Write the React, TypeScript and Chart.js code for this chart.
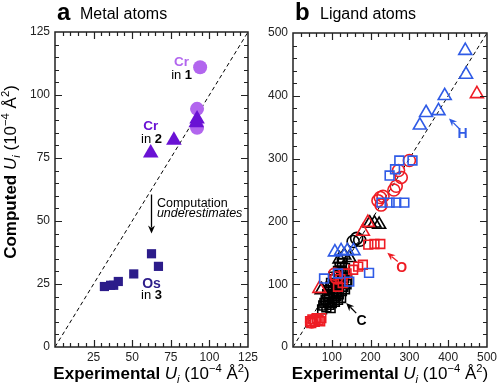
import React, { useEffect, useRef } from 'react';
import { Chart, registerables } from 'chart.js';

Chart.register(...registerables);

const FONT = '"Liberation Sans", Arial, Helvetica, sans-serif';

// ---------- Panel a: metal atoms ----------
const metalXTicks = [25, 50, 75, 100, 125];
const metalYTicks = [0, 25, 50, 75, 100, 125];
const crIn1: [number, number][] = [[94, 111], [92, 94.5], [92, 87]];
const crIn2: [number, number][] = [[62, 77], [77, 82], [92, 90.5], [91.5, 89]];
const osIn3: [number, number][] = [[32, 24], [36, 24.5], [38, 24.5], [41, 26], [51, 29], [62.5, 37], [67, 32]];

// ---------- Panel b: ligand atoms ----------
const ligandXTicks = [100, 200, 300, 400, 500];
const ligandYTicks = [0, 100, 200, 300, 400, 500];
const blueTriangles: [number, number][] = [[444, 472], [446, 434], [391, 400], [343, 373], [375, 376], [327, 353], [108, 151], [124, 153], [140, 153], [156, 153]];
const blueSquares: [number, number][] = [[249, 273], [263, 283], [274, 297], [308, 297], [228, 230], [249, 230], [266, 230], [287, 230], [80, 109], [116, 117], [145, 104], [196, 118]];
const redTriangles: [number, number][] = [[474, 403], [193, 198], [180, 184], [68, 93]];
const redCircles: [number, number][] = [[300, 297], [279, 270], [272, 281], [266, 256], [260, 250], [232, 240], [225, 238], [219, 233], [227, 226], [107, 116], [112, 110], [48, 40], [56, 43]];
const redSquares: [number, number][] = [[194, 163], [210, 164], [225, 164], [155, 123], [168, 128], [180, 131], [138, 117], [122, 108], [128, 102], [116, 96], [44, 41], [50, 44], [61, 46], [73, 46], [56, 40], [66, 43], [47, 38], [70, 41]];
const blackTriangles: [number, number][] = [[198, 197], [210, 197], [222, 195], [74, 91], [106, 96], [120, 140], [132, 146], [145, 142]];
const blackCircles: [number, number][] = [[155, 168], [164, 173], [172, 170]];
const blackSquares: [number, number][] = [[78, 66], [86, 63], [94, 67], [100, 70], [108, 72], [116, 75], [124, 78], [84, 75], [93, 80], [104, 84], [114, 87], [126, 89], [134, 92], [92, 91], [102, 95], [112, 99], [122, 102], [138, 100], [108, 108], [118, 112], [128, 118], [134, 126], [120, 128], [126, 134], [98, 102], [88, 84], [75, 60], [81, 70], [90, 72], [97, 62], [106, 78], [112, 81], [118, 84], [130, 96], [140, 106], [132, 110], [124, 122], [116, 121], [104, 112], [96, 96], [110, 92], [128, 140]];

const C_CR1 = '#B266EE';
const C_CR2 = '#6A12D4';
const C_OS = '#2C1C8A';
const C_RED = '#EE1C24';
const C_BLUE = '#2F5BE6';
const C_BLACK = '#000000';
const C_AXIS = '#222222';

type Part = { t: string; b?: boolean; i?: boolean; sub?: boolean; sup?: boolean; c?: string };

function fontOf(p: Part, size: number) {
  const s = p.sub || p.sup ? size * 0.66 : size;
  return `${p.i ? 'italic ' : ''}${p.b ? 'bold ' : ''}${s}px ${FONT}`;
}

function drawRich(ctx: CanvasRenderingContext2D, parts: Part[], x: number, y: number, size: number, align: 'left' | 'center' | 'right', color: string, rotate = false) {
  ctx.save();
  ctx.translate(x, y);
  if (rotate) ctx.rotate(-Math.PI / 2);
  ctx.textBaseline = 'alphabetic';
  ctx.textAlign = 'left';
  let total = 0;
  const widths = parts.map((p) => {
    ctx.font = fontOf(p, size);
    const w = ctx.measureText(p.t).width;
    total += w;
    return w;
  });
  let cx = align === 'left' ? 0 : align === 'center' ? -total / 2 : -total;
  parts.forEach((p, k) => {
    ctx.font = fontOf(p, size);
    ctx.fillStyle = p.c || color;
    const dy = p.sup ? -size * 0.4 : p.sub ? size * 0.22 : 0;
    ctx.fillText(p.t, cx, dy);
    cx += widths[k];
  });
  ctx.restore();
}

function arrow(ctx: CanvasRenderingContext2D, x1: number, y1: number, x2: number, y2: number, color: string) {
  const ang = Math.atan2(y2 - y1, x2 - x1);
  const hl = 8;
  const hw = 3.5;
  ctx.save();
  ctx.strokeStyle = color;
  ctx.fillStyle = color;
  ctx.lineWidth = 1.3;
  ctx.beginPath();
  ctx.moveTo(x1, y1);
  ctx.lineTo(x2 - Math.cos(ang) * (hl - 2), y2 - Math.sin(ang) * (hl - 2));
  ctx.stroke();
  ctx.beginPath();
  ctx.moveTo(x2, y2);
  ctx.lineTo(x2 - Math.cos(ang) * hl - Math.sin(ang) * hw, y2 - Math.sin(ang) * hl + Math.cos(ang) * hw);
  ctx.lineTo(x2 - Math.cos(ang) * (hl - 2.5), y2 - Math.sin(ang) * (hl - 2.5));
  ctx.lineTo(x2 - Math.cos(ang) * hl + Math.sin(ang) * hw, y2 - Math.sin(ang) * hl - Math.cos(ang) * hw);
  ctx.closePath();
  ctx.fill();
  ctx.restore();
}

function drawFrame(chart: any, max: number, major: number, minor: number) {
  const ctx: CanvasRenderingContext2D = chart.ctx;
  const a = chart.chartArea;
  const xs = chart.scales.x;
  const ys = chart.scales.y;
  ctx.save();
  ctx.strokeStyle = C_AXIS;
  ctx.lineWidth = 1.5;
  ctx.strokeRect(a.left, a.top, a.right - a.left, a.bottom - a.top);
  ctx.lineWidth = 1.2;
  ctx.beginPath();
  for (let v = minor; v < max; v += minor) {
    const isMajor = Math.abs(v / major - Math.round(v / major)) < 1e-6;
    const L = isMajor ? 7 : 4;
    const px = Math.round(xs.getPixelForValue(v)) + 0.5;
    const py = Math.round(ys.getPixelForValue(v)) + 0.5;
    ctx.moveTo(px, a.bottom); ctx.lineTo(px, a.bottom - L);
    ctx.moveTo(px, a.top); ctx.lineTo(px, a.top + L);
    ctx.moveTo(a.left, py); ctx.lineTo(a.left + L, py);
    ctx.moveTo(a.right, py); ctx.lineTo(a.right - L, py);
  }
  ctx.stroke();
  ctx.restore();
}

const xTitle: Part[] = [
  { t: 'Experimental ', b: true },
  { t: 'U', i: true },
  { t: 'i', i: true, sub: true },
  { t: ' (10' },
  { t: '\u22124', sup: true },
  { t: ' \u00C5' },
  { t: '2', sup: true },
  { t: ')' },
];
const yTitle: Part[] = [
  { t: 'Computed ', b: true },
  { t: 'U', i: true },
  { t: 'i', i: true, sub: true },
  { t: ' (10' },
  { t: '\u22124', sup: true },
  { t: ' \u00C5' },
  { t: '2', sup: true },
  { t: ')' },
];

function scaleOpts(min: number, max: number, ticks: number[], isX: boolean, size: number) {
  return {
    type: 'linear',
    min,
    max,
    afterBuildTicks: (s: any) => {
      s.ticks = ticks.map((v) => ({ value: v }));
    },
    afterFit: (s: any) => {
      if (isX) s.height = size;
      else s.width = size;
    },
    ticks: { font: { family: FONT, size: 12 }, color: C_AXIS, padding: isX ? 3 : 5, maxRotation: 0, autoSkip: false },
    grid: { display: false, drawTicks: false },
    border: { display: false },
  };
}

function pts(arr: [number, number][]) {
  return arr.map(([x, y]) => ({ x, y }));
}

export default function App() {
  const refA = useRef<HTMLCanvasElement>(null);
  const refB = useRef<HTMLCanvasElement>(null);

  useEffect(() => {
    document.body.style.margin = '0';

    const chartA = new Chart(refA.current as HTMLCanvasElement, {
      type: 'scatter',
      data: {
        datasets: [
          { data: pts(crIn2), pointStyle: 'triangle', pointRadius: 9, backgroundColor: C_CR2, borderColor: C_CR2, borderWidth: 0 },
          { data: pts(crIn1), pointStyle: 'circle', pointRadius: 7, backgroundColor: C_CR1, borderColor: C_CR1, borderWidth: 0 },
          { data: pts(osIn3), pointStyle: 'rect', pointRadius: 6.5, backgroundColor: C_OS, borderColor: C_OS, borderWidth: 0 },
          { type: 'line', data: [{ x: 0, y: 0 }, { x: 125, y: 125 }], borderColor: '#000', borderWidth: 1, borderDash: [4, 3], pointRadius: 0, fill: false },
        ] as any,
      },
      options: {
        animation: false,
        responsive: true,
        maintainAspectRatio: false,
        layout: { padding: { left: 0, top: 32, right: 22, bottom: 0 } },
        plugins: { legend: { display: false }, tooltip: { enabled: false } },
        scales: {
          x: scaleOpts(0, 125, metalXTicks, true, 38),
          y: scaleOpts(0, 125, metalYTicks, false, 55),
        } as any,
      },
      plugins: [
        {
          id: 'decorA',
          afterDraw(chart: any) {
            const ctx: CanvasRenderingContext2D = chart.ctx;
            const a = chart.chartArea;
            const X = (v: number) => chart.scales.x.getPixelForValue(v);
            const Y = (v: number) => chart.scales.y.getPixelForValue(v);
            drawFrame(chart, 125, 25, 5);
            // panel title
            drawRich(ctx, [{ t: 'a', b: true }], a.left + 2, 20, 24, 'left', '#000');
            drawRich(ctx, [{ t: 'Metal atoms' }], 80, 19, 16, 'left', '#000');
            // axis titles
            drawRich(ctx, xTitle, (a.left + a.right) / 2, 379, 17, 'center', '#000');
            drawRich(ctx, yTitle, 16, 172, 17, 'center', '#000', true);
            // annotations
            drawRich(ctx, [{ t: 'Cr', b: true }], X(82), Y(111.5), 13.5, 'center', C_CR1);
            drawRich(ctx, [{ t: 'in ' }, { t: '1', b: true }], X(82), Y(106.5), 13, 'center', '#000');
            drawRich(ctx, [{ t: 'Cr', b: true }], X(62), Y(86), 13.5, 'center', C_CR2);
            drawRich(ctx, [{ t: 'in ' }, { t: '2', b: true }], X(62.5), Y(81), 13, 'center', '#000');
            drawRich(ctx, [{ t: 'Os', b: true }], X(62.5), Y(23.5), 14, 'center', C_OS);
            drawRich(ctx, [{ t: 'in ' }, { t: '3', b: true }], X(62.5), Y(19.2), 13, 'center', '#000');
            drawRich(ctx, [{ t: 'Computation' }], X(66), Y(55.5), 12.5, 'left', '#000');
            drawRich(ctx, [{ t: 'underestimates', i: true }], X(66), Y(51.5), 12.5, 'left', '#000');
            arrow(ctx, X(62.5), Y(60.5), X(62.5), Y(45), '#000');
          },
        },
      ],
    } as any);

    const open = (arr: [number, number][], style: string, color: string, r: number) => ({
      data: pts(arr),
      pointStyle: style,
      pointRadius: r,
      backgroundColor: 'rgba(0,0,0,0)',
      borderColor: color,
      pointBorderWidth: 1.6,
      borderWidth: 1.6,
    });

    const chartB = new Chart(refB.current as HTMLCanvasElement, {
      type: 'scatter',
      data: {
        datasets: [
          open(blueTriangles, 'triangle', C_BLUE, 7.5),
          open(blueSquares, 'rect', C_BLUE, 6.2),
          open(redTriangles, 'triangle', C_RED, 7.5),
          open(redCircles, 'circle', C_RED, 6),
          open(redSquares, 'rect', C_RED, 6.2),
          open(blackTriangles, 'triangle', C_BLACK, 7.5),
          open(blackCircles, 'circle', C_BLACK, 6),
          open(blackSquares, 'rect', C_BLACK, 6.2),
          { type: 'line', data: [{ x: 0, y: 0 }, { x: 500, y: 500 }], borderColor: '#000', borderWidth: 1, borderDash: [4, 3], pointRadius: 0, fill: false },
        ] as any,
      },
      options: {
        animation: false,
        responsive: true,
        maintainAspectRatio: false,
        layout: { padding: { left: 0, top: 33, right: 12, bottom: 0 } },
        plugins: { legend: { display: false }, tooltip: { enabled: false } },
        scales: {
          x: scaleOpts(0, 500, ligandXTicks, true, 38),
          y: scaleOpts(0, 500, ligandYTicks, false, 43),
        } as any,
      },
      plugins: [
        {
          id: 'decorB',
          afterDraw(chart: any) {
            const ctx: CanvasRenderingContext2D = chart.ctx;
            const a = chart.chartArea;
            const X = (v: number) => chart.scales.x.getPixelForValue(v);
            const Y = (v: number) => chart.scales.y.getPixelForValue(v);
            drawFrame(chart, 500, 100, 20);
            drawRich(ctx, [{ t: 'b', b: true }], a.left + 2, 20, 24, 'left', '#000');
            drawRich(ctx, [{ t: 'Ligand atoms' }], 70, 19, 16, 'left', '#000');
            drawRich(ctx, xTitle, (a.left + a.right) / 2, 379, 17, 'center', '#000');
            // annotations
            drawRich(ctx, [{ t: 'H', b: true }], X(437), Y(333), 14, 'center', C_BLUE);
            arrow(ctx, X(428), Y(348), X(402), Y(364), C_BLUE);
            drawRich(ctx, [{ t: 'O', b: true }], X(280), Y(120), 14, 'center', C_RED);
            arrow(ctx, X(270), Y(136), X(243), Y(150), C_RED);
            drawRich(ctx, [{ t: 'C', b: true }], X(177), Y(35), 14, 'center', C_BLACK);
            arrow(ctx, X(163), Y(54), X(137), Y(70), C_BLACK);
          },
        },
      ],
    } as any);

    return () => {
      chartA.destroy();
      chartB.destroy();
    };
  }, []);

  return (
    <div style={{ position: 'relative', width: 500, height: 385, background: '#fff', overflow: 'hidden' }}>
      <div style={{ position: 'absolute', left: 0, top: 0, width: 270, height: 385 }}>
        <canvas ref={refA} />
      </div>
      <div style={{ position: 'absolute', left: 250, top: 0, width: 250, height: 385 }}>
        <canvas ref={refB} />
      </div>
    </div>
  );
}
